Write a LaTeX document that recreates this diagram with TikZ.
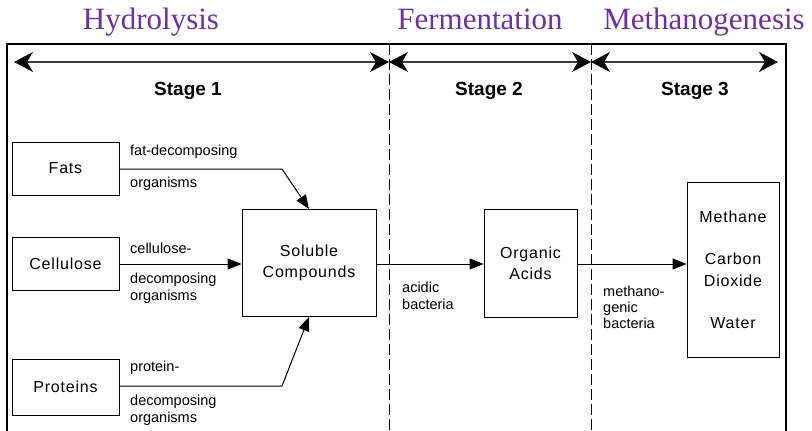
\documentclass[tikz,border=0pt]{standalone}
\usepackage{fontspec}
\setmainfont{Liberation Sans}
\newfontfamily\titlefont{Liberation Serif}
\newfontfamily\boxfont[LetterSpace=5]{Liberation Sans}
\usetikzlibrary{arrows.meta}
\definecolor{titlepurple}{HTML}{7030A0}
\definecolor{arrowgray}{HTML}{3A3A3A}
\begin{document}
\begin{tikzpicture}[x=1pt,y=-1pt,
  phase/.style={font=\titlefont\fontsize{31}{31}\selectfont, text=titlepurple, inner sep=0pt, anchor=base},
  stagelbl/.style={font=\bfseries\fontsize{19}{19}\selectfont, inner sep=0pt},
  procbox/.style={draw, line width=0.9pt, font=\boxfont\fontsize{16}{21}\selectfont, align=center, inner sep=0pt},
  small/.style={font=\fontsize{14.5}{17}\selectfont, anchor=west, inner sep=0pt, align=left},
  flow/.style={line width=1pt, -{Triangle[length=14pt,width=11pt]}},
  span/.style={line width=1.6pt, draw=arrowgray, {Stealth[length=19pt,width=20pt,inset=6pt,color=black]}-{Stealth[length=19pt,width=20pt,inset=6pt,color=black]}},
  divider/.style={line width=0.9pt, dash pattern=on 11pt off 4pt}
]
\useasboundingbox (0,0) rectangle (812,431);

% titles
\node[phase] (t1) at (151,30) {Hydrolysis};
\node[phase] (t2) at (480,30) {Fermentation};
\node[phase] (t3) at (704,30) {Methanogenesis};

% frame
\coordinate (fbl) at (7,431);
\coordinate (ftl) at (7,44);
\coordinate (ftr) at (786,44);
\coordinate (fbr) at (786,431);
\draw[line width=1.8pt] (fbl) -- (ftl) -- (ftr) -- (fbr);

% dividers
\coordinate (d1t) at (389,44);
\coordinate (d1b) at (389,431);
\coordinate (d2t) at (591,44);
\coordinate (d2b) at (591,431);
\draw[divider] (d1t) -- (d1b);
\draw[divider] (d2t) -- (d2b);

% stage spans
\coordinate (s1a) at (14,62);
\coordinate (s1b) at (389,62);
\coordinate (s2a) at (389,62);
\coordinate (s2b) at (591,62);
\coordinate (s3a) at (591,62);
\coordinate (s3b) at (778,62);
\draw[span] (s1a) -- (s1b);
\draw[span] (s2a) -- (s2b);
\draw[span] (s3a) -- (s3b);

\node[stagelbl] (st1) at (188,91) {Stage 1};
\node[stagelbl] (st2) at (489,91) {Stage 2};
\node[stagelbl] (st3) at (695,91) {Stage 3};

% boxes
\node[procbox, minimum width=107pt, minimum height=53pt] (fats) at (65.5,168.5) {Fats};
\node[procbox, minimum width=107pt, minimum height=53pt] (cell) at (65.5,263.5) {Cellulose};
\node[procbox, minimum width=107pt, minimum height=56pt] (prot) at (65.5,387) {Proteins};
\node[procbox, minimum width=134pt, minimum height=107pt] (sol) at (309,263) {Soluble\\Compounds};
\node[procbox, minimum width=93pt, minimum height=108pt] (org) at (530.5,263) {Organic\\Acids};
\node[procbox, minimum width=92pt, minimum height=175pt, font=\boxfont\fontsize{16}{22}\selectfont] (prod) at (733,269.5) {Methane\\[20pt]Carbon\\Dioxide\\[20pt]Water};

% connectors
\coordinate (fbend) at (282,169);
\coordinate (pbend) at (282,386);
\draw[flow] (fats.east |- 0,169) -- (fbend) -- (sol.north);
\draw[flow] (cell.east |- 0,264) -- (sol.west |- 0,264);
\draw[flow] (prot.east |- 0,386) -- (pbend) -- (sol.south);
\draw[flow] (sol.east |- 0,264) -- (org.west |- 0,264);
\draw[flow] (org.east |- 0,264) -- (prod.west |- 0,264);

% labels
\node[small] (l1) at (130,152) {fat-decomposing};
\node[small] (l2) at (130,184) {organisms};
\node[small] (l3) at (130,248) {cellulose-};
\node[small] (l4) at (130,288.5) {decomposing\\organisms};
\node[small] (l5) at (130,368) {protein-};
\node[small] (l6) at (130,410.5) {decomposing\\organisms};
\node[small] (l7) at (402,295.5) {acidic\\bacteria};
\node[small, font=\fontsize{14.5}{16}\selectfont] (l8) at (603,307) {methano-\\genic\\bacteria};
\end{tikzpicture}
\end{document}
